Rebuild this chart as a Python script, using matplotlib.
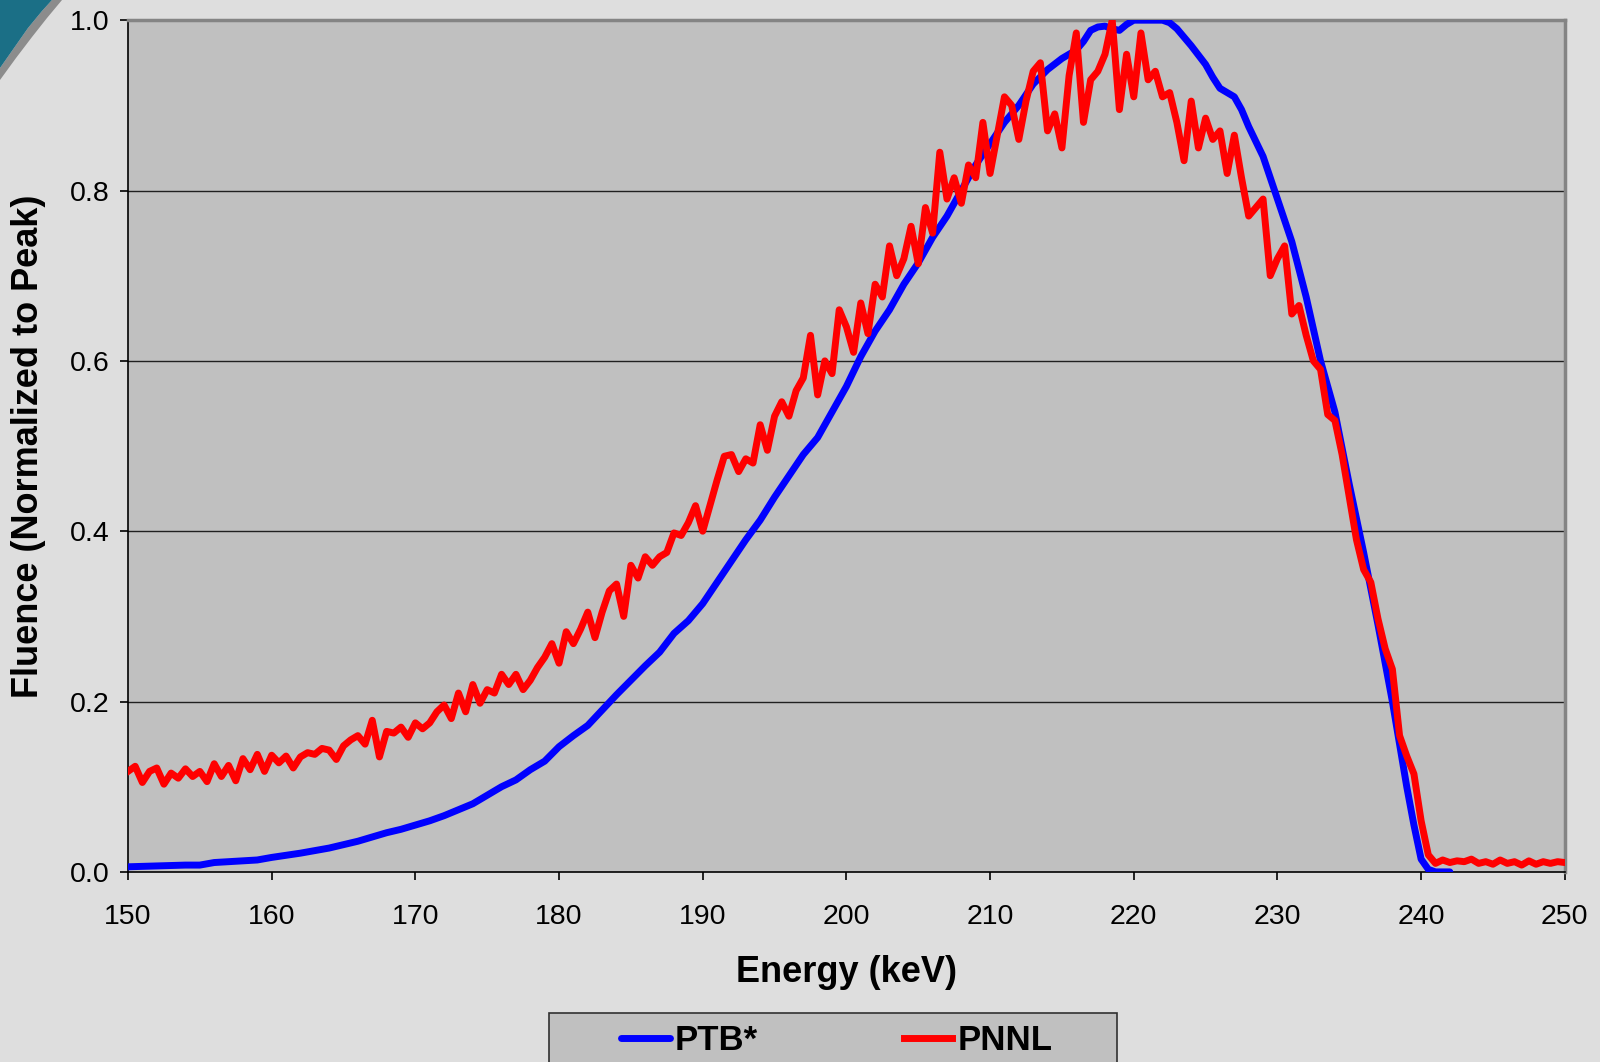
import numpy as np
import matplotlib
matplotlib.use("Agg")
import matplotlib.pyplot as plt
from matplotlib.patches import Rectangle, Polygon

plt.rcParams['font.family'] = ['Liberation Sans', 'DejaVu Sans']

# PTB* spectrum (smooth)
ptb_energy = [150, 152, 154, 155, 156, 158, 159, 160, 162, 164, 166, 168, 169, 170,
              171, 172, 173, 174, 175, 176, 177, 178, 179, 180, 181, 182, 183, 184,
              185, 186, 187, 188, 189, 190, 191, 192, 193, 194, 195, 196, 197, 198,
              199, 200, 201, 202, 203, 204, 205, 206, 207, 208, 209, 210, 211, 212,
              213, 214, 215, 216, 216.5, 217, 217.5, 218, 218.5, 219, 219.5, 220,
              221, 222, 222.5, 223, 224, 225, 225.5, 226, 226.5, 227, 227.5, 228,
              229, 230, 231, 232, 233, 234, 235, 236, 237, 238, 238.5, 239, 239.5,
              240, 240.5, 241, 242]
ptb_fluence = [0.006, 0.007, 0.008, 0.008, 0.011, 0.013, 0.014, 0.017, 0.022, 0.028,
               0.036, 0.046, 0.050, 0.055, 0.060, 0.066, 0.073, 0.080, 0.090, 0.100,
               0.108, 0.120, 0.130, 0.147, 0.160, 0.172, 0.190, 0.208, 0.225, 0.242,
               0.258, 0.280, 0.295, 0.315, 0.340, 0.365, 0.390, 0.413, 0.440, 0.465,
               0.490, 0.510, 0.540, 0.570, 0.605, 0.635, 0.660, 0.690, 0.715, 0.745,
               0.770, 0.800, 0.830, 0.855, 0.880, 0.900, 0.925, 0.942, 0.955, 0.965,
               0.975, 0.988, 0.992, 0.993, 0.990, 0.988, 0.995, 1.000, 1.000, 1.000,
               0.997, 0.990, 0.970, 0.948, 0.933, 0.920, 0.915, 0.910, 0.895, 0.875,
               0.840, 0.790, 0.740, 0.675, 0.600, 0.540, 0.455, 0.375, 0.290, 0.200,
               0.150, 0.100, 0.055, 0.015, 0.003, 0.000, 0.000]

# PNNL spectrum, 0.5 keV bins from 150 to 250 keV
pnnl_energy = np.arange(150.0, 250.01, 0.5)
pnnl_fluence = [
    0.118, 0.124, 0.105, 0.118, 0.122, 0.103, 0.116, 0.110, 0.121, 0.112,  # 150-154.5
    0.118, 0.106, 0.127, 0.112, 0.125, 0.107, 0.133, 0.120, 0.138, 0.118,  # 155-159.5
    0.137, 0.128, 0.136, 0.122, 0.135, 0.140, 0.138, 0.145, 0.143, 0.132,  # 160-164.5
    0.148, 0.155, 0.160, 0.150, 0.178, 0.135, 0.165, 0.163, 0.170, 0.158,  # 165-169.5
    0.175, 0.168, 0.175, 0.188, 0.196, 0.180, 0.210, 0.188, 0.220, 0.198,  # 170-174.5
    0.214, 0.210, 0.232, 0.220, 0.232, 0.214, 0.225, 0.240, 0.252, 0.268,  # 175-179.5
    0.245, 0.282, 0.268, 0.285, 0.305, 0.275, 0.305, 0.330, 0.338, 0.300,  # 180-184.5
    0.360, 0.345, 0.370, 0.360, 0.370, 0.375, 0.398, 0.395, 0.410, 0.430,  # 185-189.5
    0.400, 0.430, 0.460, 0.488, 0.490, 0.470, 0.485, 0.480, 0.525, 0.495,  # 190-194.5
    0.535, 0.552, 0.535, 0.565, 0.580, 0.630, 0.560, 0.600, 0.585, 0.660,  # 195-199.5
    0.640, 0.610, 0.668, 0.632, 0.690, 0.675, 0.735, 0.700, 0.720, 0.758,  # 200-204.5
    0.714, 0.780, 0.750, 0.845, 0.790, 0.815, 0.785, 0.830, 0.815, 0.880,  # 205-209.5
    0.820, 0.865, 0.910, 0.900, 0.860, 0.905, 0.940, 0.950, 0.870, 0.890,  # 210-214.5
    0.850, 0.935, 0.985, 0.880, 0.930, 0.940, 0.960, 1.000, 0.895, 0.960,  # 215-219.5
    0.910, 0.985, 0.930, 0.940, 0.910, 0.915, 0.880, 0.835, 0.905, 0.850,  # 220-224.5
    0.885, 0.860, 0.870, 0.820, 0.865, 0.815, 0.770, 0.780, 0.790, 0.700,  # 225-229.5
    0.720, 0.735, 0.655, 0.665, 0.630, 0.600, 0.590, 0.537, 0.530, 0.490,  # 230-234.5
    0.440, 0.390, 0.355, 0.340, 0.297, 0.262, 0.238, 0.160, 0.136, 0.115,  # 235-239.5
    0.060, 0.020, 0.010, 0.014, 0.011, 0.013, 0.012, 0.015, 0.010, 0.012,  # 240-244.5
    0.009, 0.014, 0.010, 0.012, 0.008, 0.013, 0.009, 0.012, 0.010, 0.012,  # 245-249.5
    0.011,                                                                 # 250
]

x_ticks = [150, 160, 170, 180, 190, 200, 210, 220, 230, 240, 250]
y_ticks = [0.0, 0.2, 0.4, 0.6, 0.8, 1.0]

fig = plt.figure(figsize=(16, 10.62), dpi=100, facecolor="#dedede")
ax = fig.add_axes([0.08, 0.179, 0.898, 0.802])
ax.set_facecolor("#c0c0c0")

for y in y_ticks[1:-1]:
    ax.axhline(y, color="#202020", lw=1.0, zorder=1)

ax.plot(ptb_energy, ptb_fluence, color="#0000ff", lw=5, solid_capstyle="round",
        label="PTB*", zorder=3)
ax.plot(pnnl_energy, pnnl_fluence, color="#ff0000", lw=5, solid_joinstyle="round",
        label="PNNL", zorder=4)

ax.set_xlim(150, 250)
ax.set_ylim(0, 1)
ax.set_xticks(x_ticks)
ax.set_yticks(y_ticks)
ax.set_yticklabels([f"{v:.1f}" for v in y_ticks])
ax.tick_params(axis="both", labelsize=20.5, length=6, width=1.2, color="black", direction="out")
ax.tick_params(axis="x", pad=17)
ax.tick_params(axis="y", pad=7)

ax.spines["left"].set_color("black")
ax.spines["left"].set_linewidth(1.2)
ax.spines["bottom"].set_color("black")
ax.spines["bottom"].set_linewidth(1.2)
for s in ["top", "right"]:
    ax.spines[s].set_color("#848484")
    ax.spines[s].set_linewidth(2.5)

fig.text(29 / 1600, 0.58, "Fluence (Normalized to Peak)", rotation=90, ha="center",
         va="center", fontsize=26, fontweight="bold")
fig.text(0.529, 1 - 972 / 1062, "Energy (keV)", ha="center", va="center",
         fontsize=26, fontweight="bold")

# legend box, cut off by the bottom of the figure
fig.add_artist(Rectangle((549 / 1600, -0.05), (1117 - 549) / 1600, 0.05 + 1 - 1013 / 1062,
                         transform=fig.transFigure, facecolor="#c0c0c0",
                         edgecolor="#303030", lw=1.2))
leg = fig.legend(loc="center", bbox_to_anchor=(0.523, 1 - 1041 / 1062), ncol=2,
                 frameon=False, prop={"size": 25, "weight": "bold"},
                 handlelength=1.4, handletextpad=0.15, columnspacing=4.2)
for line in leg.get_lines():
    line.set_linewidth(5)

# teal swoosh in the top-left corner
def px(points):
    return [(x / 1600, 1 - y / 1062) for x, y in points]

fig.add_artist(Polygon(px([(52, 0), (62, 0), (47, 18), (32, 37), (16, 58), (0, 80),
                           (0, 68), (14, 48), (28, 28), (42, 11)]),
                       closed=True, transform=fig.transFigure,
                       facecolor="#8c8c8c", edgecolor="none"))
fig.add_artist(Polygon(px([(0, 0), (52, 0), (42, 11), (28, 28), (14, 48), (0, 68)]),
                       closed=True, transform=fig.transFigure,
                       facecolor="#1b6f86", edgecolor="none"))

fig.savefig("out.png", dpi=100, facecolor=fig.get_facecolor())
